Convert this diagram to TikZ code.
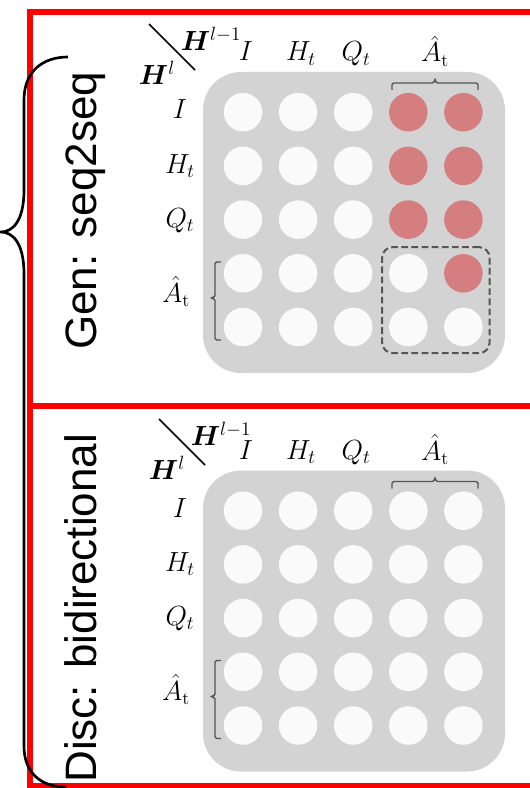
\documentclass[tikz,border=0pt]{standalone}
\usepackage{fontspec}
\setsansfont{Liberation Sans}
\usepackage{amsmath}
\usepackage{bm}
\usetikzlibrary{fit}

\definecolor{framered}{RGB}{255,0,0}
\definecolor{panelgray}{RGB}{211,211,211}
\definecolor{pale}{RGB}{250,250,250}
\definecolor{hot}{RGB}{212,126,128}
\definecolor{inkgray}{RGB}{85,85,85}

\begin{document}
\begin{tikzpicture}[x=0.75pt, y=-0.75pt,
  frame/.style={draw=framered, line width=4.1pt},
  panel/.style={fill=panelgray, rounded corners=28.5pt, minimum width=226.5pt,
                minimum height=225.75pt, inner sep=0pt},
  dot/.style={circle, minimum size=28.9pt, inner sep=0pt},
  selbox/.style={draw=inkgray, dash pattern=on 5pt off 2.6pt, line width=1.5pt,
                 rounded corners=8pt, inner sep=5pt},
  brc/.style={draw=inkgray, line width=1.1pt, rounded corners=1.2pt},
  lab/.style={inner sep=0pt, font=\fontsize{19.5}{23}\selectfont},
  side/.style={inner sep=0pt, font=\sffamily\fontsize{33}{40}\selectfont,
               rotate=90, anchor=base west},
  slash/.style={draw=black, line width=1.1pt},
  hang/.style={draw=black, line width=2pt}]
\useasboundingbox (0,0) rectangle (530,788);

% two attention-mask panels: generative (top) and discriminative (bottom)
\foreach \p/\dy/\hx/\hy/\gen in {t/0/0/0/1, b/398.5/10/-3.5/0}{
\begin{scope}[shift={(0,\dy)}]
  \node[panel] (\p-bg) at (354,222.5) {};
  \foreach \r in {1,...,5}{
    \foreach \c in {1,...,5}{
      \pgfmathtruncatemacro\hot{\gen*(((\r<4) && (\c>3)) || ((\r==4) && (\c==5)))}
      \ifnum\hot=1 \def\dotcol{hot}\else\def\dotcol{pale}\fi
      \node[dot, fill=\dotcol] (\p-\r-\c) at ({243+55.1*(\c-1)},{112.2+53.7*(\r-1)}) {};
    }
  }
  \ifnum\gen=1
    \node[selbox, fit=(\p-4-4)(\p-5-5)] (\p-sel) {};
  \fi

  % corner header
  \coordinate (\p-d1) at (149+\hx,24+\hy);
  \coordinate (\p-d2) at (195+\hx,70+\hy);
  \draw[slash] (\p-d1) -- (\p-d2);
  \node[lab] (\p-hp) at (211+\hx,39+\hy) {$\bm{H}^{l-1}$};
  \node[lab] (\p-hc) at (157+\hx,73+\hy) {$\bm{H}^{l}$};

  % column labels
  \node[lab, anchor=base] (\p-cI) at (246,61) {$I$};
  \node[lab, anchor=base] (\p-cH) at (301,61) {$H_t$};
  \node[lab, anchor=base] (\p-cQ) at (356,61) {$Q_t$};
  \node[lab, anchor=base] (\p-cA) at (435,62) {$\hat{A}_{\mathrm{t}}$};

  % row labels
  \node[lab, anchor=base] (\p-rI) at (180,119) {$I$};
  \node[lab, anchor=base] (\p-rH) at (180,173) {$H_t$};
  \node[lab, anchor=base] (\p-rQ) at (180,227) {$Q_t$};
  \node[lab, anchor=base] (\p-rA) at (176,302) {$\hat{A}_{\mathrm{t}}$};

  % brace over the answer columns
  \coordinate (\p-ca) at (392,90);
  \draw[brc] (\p-ca) -- ++(0,-7) -- ++(39,0)
     .. controls +(2,0) and +(0,3) .. ++(4,-5)
     .. controls +(0,3) and +(-2,0) .. ++(4,5)
     -- ++(39,0) -- ++(0,7);

  % brace beside the answer rows
  \coordinate (\p-ra) at (221,340);
  \draw[brc] (\p-ra) -- ++(-6,0) -- ++(0,-38)
     .. controls +(0,-2) and +(3,0) .. ++(-5,-4)
     .. controls +(3,0) and +(0,2) .. ++(5,-4)
     -- ++(0,-32) -- ++(6,0);
\end{scope}
}

% red frames
\draw[frame, line join=miter] (530,12) -- (30,12) -- (30,786) -- (530,786);
\draw[frame] (30,406) -- (530,406);

% large curly brace on the left
\draw[hang] (68,57) .. controls (42,57) and (24,72) .. (24,100) -- (24,190)
   .. controls (24,222) and (12,232) .. (0.8,232)
   .. controls (12,232) and (24,242) .. (24,274) -- (24,746)
   .. controls (24,772) and (40,787) .. (66,787);

% side titles
\node[side] (gen) at (96,350) {Gen: seq2seq};
\node[side] (disc) at (96,783) {Disc: bidirectional};
\end{tikzpicture}
\end{document}
